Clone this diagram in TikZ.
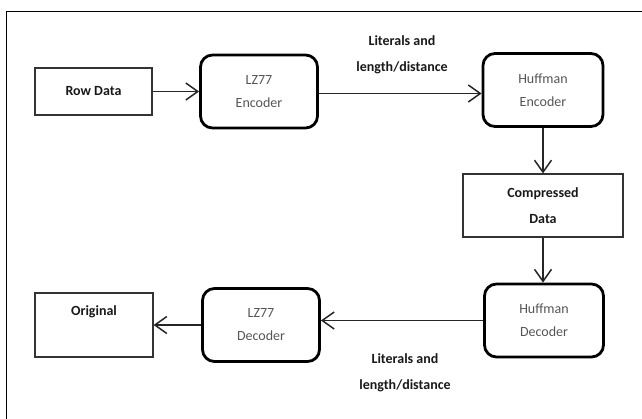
\documentclass[tikz,border=0pt]{standalone}
\usepackage{fontspec}
\setmainfont{Carlito}
\usetikzlibrary{arrows.meta}
\definecolor{boxtext}{HTML}{555555}
\tikzset{
  x=1pt, y=-1pt,
  plainbox/.style={draw=black!80, line width=1.1pt, rectangle, inner sep=0pt},
  roundbox/.style={draw=black, line width=2.8pt, rounded corners=12pt, inner sep=0pt,
    minimum width=117pt, minimum height=73pt, align=center, text=boxtext,
    font=\fontsize{14}{23}\selectfont},
  boldtxt/.style={font=\bfseries\fontsize{14}{26}\selectfont, align=center, text=black!90},
  flow/.style={line width=1.5pt, draw=black!85, -{Straight Barb[length=12pt,width=17pt,line width=1.5pt]}},
}
\begin{document}
\begin{tikzpicture}
\useasboundingbox (0,0) rectangle (642,418);
\draw[line width=1pt] (6.5,430) -- (6.5,11) -- (660,11);

\node[plainbox, minimum width=117pt, minimum height=47pt, boldtxt] (row) at (93.5,91.5) {Row Data};
\node[roundbox] (lzE) at (259,91.5) {LZ77\\Encoder};
\node[roundbox, minimum width=120pt] (hufE) at (543,90) {Huffman\\Encoder};
\node[plainbox, minimum width=160pt, minimum height=63pt, boldtxt] (comp) at (543,205.5) {Compressed\\Data};
\node[roundbox, minimum width=119pt] (hufD) at (544,320.5) {Huffman\\Decoder};
\node[roundbox] (lzD) at (261,325) {LZ77\\Decoder};
\node[plainbox, minimum width=118pt, minimum height=64pt] (orig) at (94,325) {};
\node[boldtxt, anchor=north] (origtxt) at ([yshift=-10pt]orig.north) {Original};

\node[boldtxt] (lblTop) at (402,55) {Literals and\\length/distance};
\node[boldtxt] (lblBot) at (405,373) {Literals and\\length/distance};

\draw[flow] (row.east) -- (row.east -| lzE.west);
\draw[flow] ([yshift=-2pt]lzE.east) -- ([yshift=-2pt]lzE.east -| hufE.west);
\draw[flow] (hufE.south) -- (hufE.south |- comp.north);
\draw[flow] (comp.south) -- (comp.south |- hufD.north);
\draw[flow] (hufD.west) -- (hufD.west -| lzD.east);
\draw[flow] (lzD.west) -- (lzD.west -| orig.east);
\end{tikzpicture}
\end{document}
